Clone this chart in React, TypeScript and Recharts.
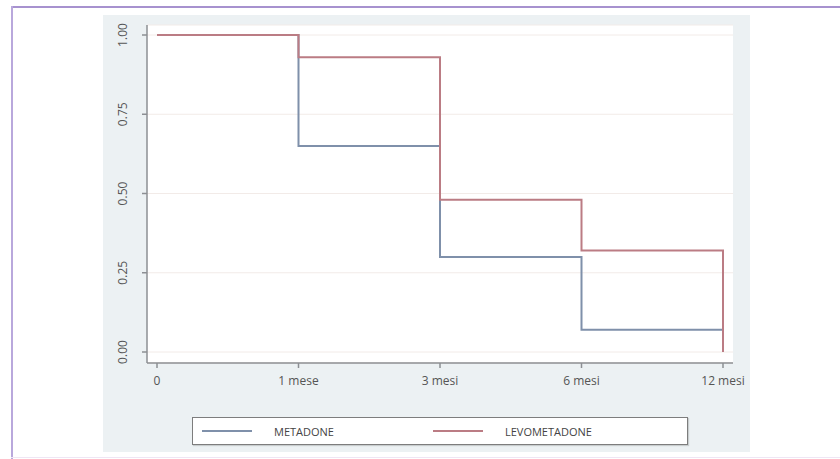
import React from "react";
import { LineChart, Line, XAxis, YAxis, CartesianGrid } from "recharts";

const periods = ["0", "1 mese", "3 mesi", "6 mesi", "12 mesi"];
const metadone = [1.0, 0.65, 0.3, 0.07, 0.07];
const levometadone = [1.0, 0.93, 0.48, 0.32, 0.0];
const yTicks = [0, 0.25, 0.5, 0.75, 1];

const series = [
  { key: "metadone", name: "METADONE", color: "#7f90aa" },
  { key: "levometadone", name: "LEVOMETADONE", color: "#bb7c84" },
];

const data = periods.map((p, i) => ({
  period: p,
  metadone: metadone[i],
  levometadone: levometadone[i],
}));

const YTick = (props: any) => {
  const { x, y, payload } = props;
  return (
    <text
      x={0}
      y={0}
      transform={`translate(${x - 13},${y}) rotate(-90)`}
      textAnchor="middle"
      fontSize={12}
      fill="#555"
      fontFamily="'Open Sans', sans-serif"
    >
      {payload.value.toFixed(2)}
    </text>
  );
};

const XTick = (props: any) => {
  const { x, y, payload } = props;
  return (
    <text
      x={x}
      y={y + 15}
      textAnchor="middle"
      fontSize={12}
      fill="#555"
      fontFamily="'Open Sans', sans-serif"
    >
      {payload.value}
    </text>
  );
};

export default function App() {
  return (
    <div
      style={{
        position: "absolute",
        top: 0,
        left: 0,
        width: 840,
        height: 459,
        background: "#fff",
        overflow: "hidden",
      }}
    >
      {/* frame */}
      <div style={{ position: "absolute", left: 11, top: 6, right: 0, height: 2, background: "#a792cf" }} />
      <div style={{ position: "absolute", left: 11, top: 6, bottom: 0, width: 2, background: "#b9a8dc" }} />
      <div style={{ position: "absolute", left: 11, bottom: 1, right: 0, height: 1, background: "#efe6f4" }} />
      {/* grey panel */}
      <div style={{ position: "absolute", left: 103, top: 15, width: 647, height: 437, background: "#ecf1f3" }} />
      {/* plot background */}
      <div style={{ position: "absolute", left: 147, top: 25, width: 586, height: 338, background: "#fff" }} />

      <div style={{ position: "absolute", left: 0, top: 0 }}>
        <LineChart
          width={840}
          height={459}
          data={data}
          margin={{ top: 25, right: 107, bottom: 66, left: 0 }}
        >
          <CartesianGrid vertical={false} stroke="#f2ebe8" />
          <XAxis
            dataKey="period"
            padding={{ left: 10, right: 10 }}
            height={30}
            tickSize={5}
            stroke="#8c8f93"
            strokeWidth={1.5}
            tick={<XTick />}
            interval={0}
          />
          <YAxis
            type="number"
            domain={[0, 1]}
            ticks={yTicks}
            padding={{ top: 10, bottom: 11 }}
            width={147}
            tickSize={5}
            stroke="#8c8f93"
            strokeWidth={1.5}
            tick={<YTick />}
            interval={0}
          />
          {series.map((s) => (
            <Line
              key={s.key}
              type="stepAfter"
              dataKey={s.key}
              name={s.name}
              stroke={s.color}
              strokeWidth={2}
              dot={false}
              activeDot={false}
              isAnimationActive={false}
            />
          ))}
        </LineChart>
      </div>

      {/* legend */}
      <div
        style={{
          position: "absolute",
          left: 192,
          top: 417,
          width: 494,
          height: 26,
          background: "#fff",
          border: "1px solid #7d7d7d",
          boxShadow: "1px 1px 1px rgba(0,0,0,0.15)",
          fontFamily: "'Open Sans', sans-serif",
          fontSize: 11,
          color: "#444",
        }}
      >
        {series.map((s, i) => (
          <div
            key={s.key}
            style={{
              position: "absolute",
              left: i === 0 ? 9 : 240,
              top: 0,
              height: 26,
              display: "flex",
              alignItems: "center",
            }}
          >
            <span style={{ display: "inline-block", width: 50, height: 1.5, background: s.color, marginRight: 22 }} />
            <span>{s.name}</span>
          </div>
        ))}
      </div>
    </div>
  );
}
